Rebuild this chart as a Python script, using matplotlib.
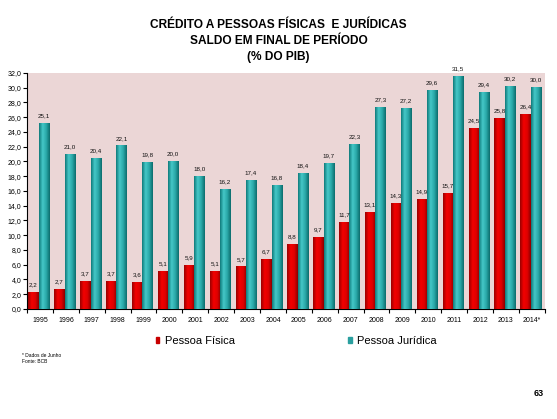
import numpy as np
import matplotlib.pyplot as plt
from matplotlib.colors import LinearSegmentedColormap

plt.rcParams['font.family'] = ['Liberation Sans', 'DejaVu Sans']

# --- DADOS ---
anos = ['1995', '1996', '1997', '1998', '1999', '2000', '2001', '2002', '2003', '2004',
        '2005', '2006', '2007', '2008', '2009', '2010', '2011', '2012', '2013', '2014*']
pessoa_fisica = [2.2, 2.7, 3.7, 3.7, 3.6, 5.1, 5.9, 5.1, 5.7, 6.7,
                 8.8, 9.7, 11.7, 13.1, 14.3, 14.9, 15.7, 24.5, 25.8, 26.4]
pessoa_juridica = [25.1, 21.0, 20.4, 22.1, 19.8, 20.0, 18.0, 16.2, 17.4, 16.8,
                   18.4, 19.7, 22.3, 27.3, 27.2, 29.6, 31.5, 29.4, 30.2, 30.0]

titulo = "CRÉDITO A PESSOAS FÍSICAS  E JURÍDICAS\nSALDO EM FINAL DE PERÍODO\n(% DO PIB)"

# gradientes tipo "cilindro"
cmap_pf = LinearSegmentedColormap.from_list('pf', ['#9a0000', '#f20000', '#e00000', '#8a0000'])
cmap_pj = LinearSegmentedColormap.from_list('pj', ['#0f7a7a', '#45c8c8', '#2aa8a8', '#0c6c6c'])
grad = np.linspace(0, 1, 64).reshape(1, -1)

fig = plt.figure(figsize=(5.57, 4.19), dpi=100)
ax = fig.add_axes([0.0485, 0.2625, 0.9295, 0.5635])
ax.set_facecolor('#ebd6d6')

x = np.arange(len(anos))
w = 0.39
barras_pf = ax.bar(x - 0.25, pessoa_fisica, w, color='#e00000', label='Pessoa Física', zorder=2)
barras_pj = ax.bar(x + 0.15, pessoa_juridica, w, color='#2aa8a8', label='Pessoa Jurídica', zorder=2)

# preencher cada barra com o gradiente
for barras, cmap in ((barras_pf, cmap_pf), (barras_pj, cmap_pj)):
    for b in barras:
        x0, y0 = b.get_x(), b.get_y()
        ax.imshow(grad, cmap=cmap, aspect='auto', zorder=3,
                  extent=(x0, x0 + b.get_width(), y0, y0 + b.get_height()))

# rótulos de valor
for barras, vals in ((barras_pf, pessoa_fisica), (barras_pj, pessoa_juridica)):
    for b, v in zip(barras, vals):
        ax.text(b.get_x() + b.get_width() / 2, v + 0.7, f"{v:.1f}".replace('.', ','),
                ha='center', va='bottom', fontsize=4.5, color='#111111', zorder=4)

ax.set_xlim(-0.5, len(anos) - 0.5)
ax.set_ylim(0, 32)
ax.set_yticks(np.arange(0, 33, 2))
ax.set_yticklabels([f"{t:.1f}".replace('.', ',') for t in np.arange(0, 33, 2)], fontsize=5)
ax.set_xticks(x)
ax.set_xticklabels(anos, fontsize=5)
ax.set_xticks(np.arange(-0.5, len(anos)), minor=True)
ax.tick_params(axis='x', which='major', length=0, pad=6)
ax.tick_params(axis='x', which='minor', length=3, width=0.8)
ax.tick_params(axis='y', length=3, width=0.8, pad=1)
for lado in ('top', 'right'):
    ax.spines[lado].set_visible(False)
ax.spines['left'].set_linewidth(0.8)
ax.spines['bottom'].set_linewidth(0.8)

fig.text(0.5, 0.955, titulo, ha='center', va='top', fontsize=8.6, fontweight='bold',
         linespacing=1.45)

handles = [plt.Rectangle((0, 0), 1, 1, color='#c80000'), plt.Rectangle((0, 0), 1, 1, color='#2a9f9f')]
fig.legend(handles, ['Pessoa Física', 'Pessoa Jurídica'], loc='center', ncol=2,
           bbox_to_anchor=(0.532, 0.186), frameon=False, fontsize=8, handlelength=0.3,
           handleheight=0.55, handletextpad=0.5, columnspacing=10.2, borderpad=0)

fig.text(0.04, 0.157, "* Dados de Junho\nFonte: BCB", fontsize=3.5, va='top', linespacing=1.3)
fig.text(0.977, 0.06, "63", fontsize=6.5, fontweight='bold', ha='right', va='center')

fig.savefig('out.png', dpi=100, facecolor='white')
